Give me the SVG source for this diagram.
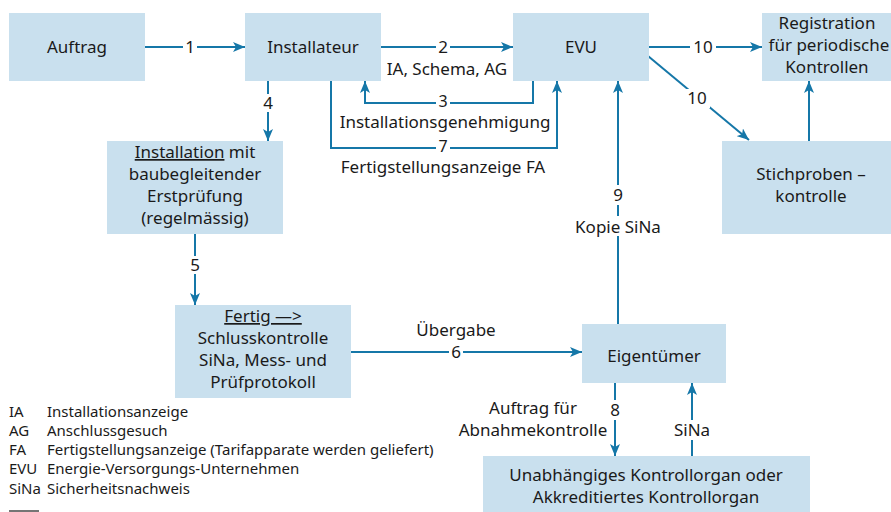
<svg xmlns="http://www.w3.org/2000/svg" width="891" height="512" viewBox="0 0 891 512">
<defs>
<marker id="ah" viewBox="0 0 12 10" refX="12" refY="5" markerWidth="12" markerHeight="10" markerUnits="userSpaceOnUse" orient="auto">
<path d="M0,0 L12,5 L0,10 L3,5 Z" fill="#1577a8"/>
</marker>
<style>
.box{fill:#c9e0ee}
.t{font-family:"Noto Sans","Liberation Sans",sans-serif;font-size:17px;fill:#1a1a1a;text-anchor:middle}
.n{font-family:"Noto Sans","Liberation Sans",sans-serif;font-size:16px;fill:#1a1a1a;text-anchor:middle}
.l{font-family:"Noto Sans","Liberation Sans",sans-serif;font-size:15px;fill:#1a1a1a}
.c{fill:none;stroke:#1577a8;stroke-width:2}
.bg{fill:#ffffff}
</style>
</defs>
<rect width="891" height="512" fill="#ffffff"/>

<g id="connectors">
<path class="c" d="M145,47 H245" marker-end="url(#ah)"/>
<path class="c" d="M381,47 H513" marker-end="url(#ah)"/>
<path class="c" d="M533,81 V103 H365 V81" marker-end="url(#ah)"/>
<path class="c" d="M331,81 V148 H557 V81" marker-end="url(#ah)"/>
<path class="c" d="M268,81 V141" marker-end="url(#ah)"/>
<path class="c" d="M195,234 V305" marker-end="url(#ah)"/>
<path class="c" d="M351,352 H582" marker-end="url(#ah)"/>
<path class="c" d="M618,324 V81" marker-end="url(#ah)"/>
<path class="c" d="M615,383 V456" marker-end="url(#ah)"/>
<path class="c" d="M692,456 V383" marker-end="url(#ah)"/>
<path class="c" d="M649,47 H762" marker-end="url(#ah)"/>
<path class="c" d="M648,56 L749,140" marker-end="url(#ah)"/>
<path class="c" d="M809,141 V81" marker-end="url(#ah)"/>
<rect class="bg" x="183" y="38" width="14" height="18"/>
<rect class="bg" x="436" y="38" width="14" height="18"/>
<rect class="bg" x="436" y="94" width="14" height="18"/>
<rect class="bg" x="436" y="139" width="14" height="18"/>
<rect class="bg" x="261" y="94" width="14" height="18"/>
<rect class="bg" x="188" y="256" width="14" height="18"/>
<rect class="bg" x="449" y="343" width="14" height="18"/>
<rect class="bg" x="611" y="185" width="14" height="20"/>
<rect class="bg" x="572" y="216" width="94" height="20"/>
<rect class="bg" x="608" y="400" width="14" height="20"/>
<rect class="bg" x="670" y="420" width="44" height="20"/>
<rect class="bg" x="690" y="38" width="26" height="18"/>
<rect class="bg" x="684" y="89" width="26" height="19"/>
<text class="t" x="190" y="53">1</text>
<text class="t" x="443" y="53">2</text>
<text class="t" x="447" y="75">IA, Schema, AG</text>
<text class="n" x="443" y="107">3</text>
<text class="t" x="445" y="128">Installationsgenehmigung</text>
<text class="n" x="443" y="152">7</text>
<text class="t" x="443" y="173">Fertigstellungsanzeige FA</text>
<text class="t" x="268" y="109">4</text>
<text class="t" x="195" y="271">5</text>
<text class="t" x="456" y="336">Übergabe</text>
<text class="t" x="456" y="358">6</text>
<text class="t" x="618" y="201">9</text>
<text class="t" x="618" y="233">Kopie SiNa</text>
<text class="t" x="615" y="416">8</text>
<text class="t" x="533" y="414">Auftrag für</text>
<text class="t" x="533" y="436">Abnahmekontrolle</text>
<text class="t" x="692" y="436">SiNa</text>
<text class="t" x="703" y="53">10</text>
<text class="t" x="697" y="104">10</text>
</g>

<g id="auftrag">
<rect class="box" x="9" y="13" width="136" height="68"/>
<text class="t" x="77" y="53">Auftrag</text>
</g>
<g id="installateur">
<rect class="box" x="245" y="13" width="136" height="68"/>
<text class="t" x="313" y="53">Installateur</text>
</g>
<g id="evu">
<rect class="box" x="513" y="13" width="136" height="68"/>
<text class="t" x="581" y="53">EVU</text>
</g>
<g id="registration">
<rect class="box" x="762" y="13" width="129" height="68"/>
<text class="t" x="827" y="29">Registration</text>
<text class="t" x="829" y="51">für periodische</text>
<text class="t" x="827" y="73">Kontrollen</text>
</g>
<g id="stichproben">
<rect class="box" x="722" y="141" width="169" height="93"/>
<text class="t" x="811" y="180">Stichproben –</text>
<text class="t" x="811" y="202">kontrolle</text>
</g>
<g id="installation">
<rect class="box" x="107" y="141" width="176" height="93"/>
<text class="t" x="195" y="158"><tspan text-decoration="underline">Installation</tspan> mit</text>
<text class="t" x="195" y="180">baubegleitender</text>
<text class="t" x="195" y="202">Erstprüfung</text>
<text class="t" x="195" y="224">(regelmässig)</text>
</g>
<g id="fertig">
<rect class="box" x="175" y="305" width="176" height="93"/>
<text class="t" x="263" y="322" text-decoration="underline">Fertig —&gt;</text>
<text class="t" x="263" y="344">Schlusskontrolle</text>
<text class="t" x="263" y="366">SiNa, Mess- und</text>
<text class="t" x="263" y="388">Prüfprotokoll</text>
</g>
<g id="eigentuemer">
<rect class="box" x="582" y="324" width="144" height="59"/>
<text class="t" x="654" y="362">Eigentümer</text>
</g>
<g id="kontrollorgan">
<rect class="box" x="483" y="456" width="327" height="56"/>
<text class="t" x="646" y="481">Unabhängiges Kontrollorgan oder</text>
<text class="t" x="646" y="503">Akkreditiertes Kontrollorgan</text>
</g>

<g id="legend">
<text class="l" x="9" y="417">IA</text>
<text class="l" x="47" y="417">Installationsanzeige</text>
<text class="l" x="9" y="436">AG</text>
<text class="l" x="47" y="436">Anschlussgesuch</text>
<text class="l" x="9" y="455">FA</text>
<text class="l" x="47" y="455">Fertigstellungsanzeige (Tarifapparate werden geliefert)</text>
<text class="l" x="9" y="474">EVU</text>
<text class="l" x="47" y="474">Energie-Versorgungs-Unternehmen</text>
<text class="l" x="9" y="494">SiNa</text>
<text class="l" x="47" y="494">Sicherheitsnachweis</text>
<line x1="9" y1="511" x2="39" y2="511" stroke="#1a1a1a" stroke-width="1.2"/>
</g>
</svg>
